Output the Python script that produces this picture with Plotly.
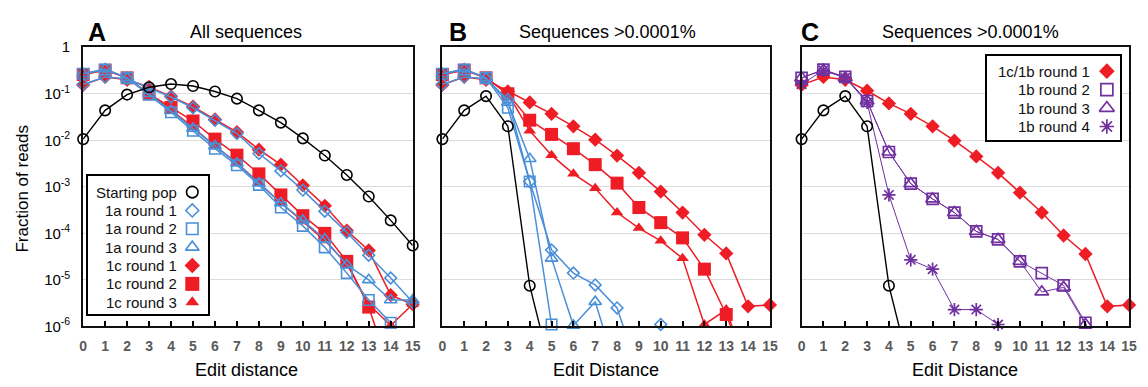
import plotly.graph_objects as go

W, H = 1148, 387

# ---------------- data ----------------
EDIT = list(range(16))
X_TICK_TEXT = [str(i) for i in EDIT]
Y_TICK_VALS = [1e-6, 1e-5, 1e-4, 1e-3, 1e-2, 1e-1, 1]
Y_TICK_TEXT = ["10<sup>-6</sup>", "10<sup>-5</sup>", "10<sup>-4</sup>", "10<sup>-3</sup>",
               "10<sup>-2</sup>", "10<sup>-1</sup>", "1"]

# 0 = no reads (drawn as a drop below the axis), None = not plotted
# Panel A: all sequences
A_START = [0.0106, 0.044, 0.096, 0.138, 0.162, 0.147, 0.112, 0.0785, 0.044, 0.024, 0.011,
           0.0047, 0.0018, 6.2e-4, 1.9e-4, 5.5e-5]
A_1A_R1 = [0.16, 0.23, 0.21, 0.135, 0.085, 0.05, 0.027, 0.014, 0.0052, 0.0022, 8.5e-4,
           3.0e-4, 1.05e-4, 3.4e-5, 1.1e-5, 3.3e-6]
A_1A_R2 = [0.27, 0.33, 0.22, 0.096, 0.04, 0.016, 0.0066, 0.0029, 0.0011, 3.6e-4, 1.45e-4,
           5.0e-5, 1.4e-5, 3.7e-6, 1.2e-6, 0]
A_1A_R3 = [0.27, 0.34, 0.22, 0.1, 0.043, 0.018, 0.0075, 0.0032, 0.0012, 4.5e-4, 1.9e-4,
           7.5e-5, 2.1e-5, 1.0e-5, 3.7e-6, 3.7e-6]
A_1C_R1 = [0.155, 0.23, 0.2, 0.14, 0.088, 0.053, 0.028, 0.015, 0.0063, 0.003, 1.07e-3,
           3.9e-4, 1.15e-4, 4.3e-5, 4.7e-6, 3.0e-6]
A_1C_R2 = [0.26, 0.32, 0.22, 0.1, 0.051, 0.026, 0.0106, 0.0048, 0.0019, 6.7e-4, 2.4e-4,
           1.0e-4, 2.5e-5, 2.6e-6, 0, 0]
A_1C_R3 = [0.26, 0.33, 0.22, 0.1, 0.045, 0.019, 0.0075, 0.0033, 0.0012, 4.5e-4, 1.8e-4,
           7.0e-5, 2.2e-5, 3.0e-6, 1.05e-6, 3.0e-6]

# Panel B: sequences >0.0001%
B_START = [0.0106, 0.044, 0.089, 0.02, 7.5e-6, 0, None, None, None, None, None,
           None, None, None, None, None]
B_1A_R1 = [0.16, 0.23, 0.21, 0.075, 0.0013, 4.4e-5, 1.4e-5, 7.8e-6, 2.5e-6, 0, 1.1e-6,
           0, 0, 0, 0, 0]
B_1A_R2 = [0.27, 0.33, 0.22, 0.05, 0.0013, 1.1e-6, 0, 0, 0, 0, 0, 0, 0, 0, 0, 0]
B_1A_R3 = [0.27, 0.34, 0.22, 0.065, 0.0040, 2.9e-5, 1.05e-6, 3.4e-6, 0, 0, 0, 0, 0, 0, 0, 0]
B_1C_R1 = [0.155, 0.23, 0.2, 0.112, 0.065, 0.037, 0.020, 0.0103, 0.0047, 0.002, 7.9e-4,
           2.8e-4, 9.3e-5, 3.7e-5, 2.7e-6, 2.9e-6]
B_1C_R2 = [0.26, 0.32, 0.22, 0.1, 0.027, 0.0134, 0.0066, 0.003, 0.0012, 3.6e-4, 1.7e-4,
           8.0e-5, 1.7e-5, 1.8e-6, 0, 0]
B_1C_R3 = [0.26, 0.33, 0.22, 0.1, 0.016, 0.0048, 0.0019, 9.3e-4, 2.8e-4, 1.3e-4, 6.9e-5,
           2.9e-5, 1.1e-6, 2.3e-6, 0, 0]

# Panel C: sequences >0.0001%
C_START = [0.0106, 0.044, 0.089, 0.02, 7.5e-6, 0, None, None, None, None, None,
           None, None, None, None, None]
C_1C1B_R1 = [0.155, 0.23, 0.2, 0.116, 0.062, 0.037, 0.02, 0.0098, 0.0045, 0.002, 7.5e-4,
             2.8e-4, 9.0e-5, 3.6e-5, 2.7e-6, 2.9e-6]
C_1B_R2 = [0.22, 0.33, 0.23, 0.07, 0.0056, 1.17e-3, 5.5e-4, 2.8e-4, 1.1e-4, 7.4e-5, 2.5e-5,
           1.4e-5, 7.6e-6, 1.2e-6, 0, 0]
C_1B_R3 = [0.22, 0.32, 0.22, 0.07, 0.0056, 1.17e-3, 5.5e-4, 2.8e-4, 1.1e-4, 7.4e-5, 2.5e-5,
           5.5e-6, 6.9e-6, 1.1e-6, 0, 0]
C_1B_R4 = [0.16, 0.32, 0.22, 0.065, 6.7e-4, 2.7e-5, 1.7e-5, 2.3e-6, 2.3e-6, 1.1e-6, 0,
           0, 0, 0, 0, 0]

LEGEND_A = ["Starting pop", "1a round 1", "1a round 2", "1a round 3",
            "1c round 1", "1c round 2", "1c round 3"]
LEGEND_C = ["1c/1b round 1", "1b round 2", "1b round 3", "1b round 4"]

# ---------------- styles ----------------
RED = "#EE1C25"
BLUE = "#4A90D9"
PURPLE = "#7030A0"
BLACK = "#000000"
FONT = "Liberation Sans, Arial, sans-serif"
FLOOR = 1e-7  # stand-in for zero reads on the log axis

STY = {
    "start": dict(color=BLACK, symbol="circle-open", size=10.5, lw=1.4, mlw=1.6),
    "1a_r1": dict(color=BLUE, symbol="diamond-open", size=9, lw=1.5, mlw=1.6),
    "1a_r2": dict(color=BLUE, symbol="square-open", size=10.5, lw=1.5, mlw=1.6),
    "1a_r3": dict(color=BLUE, symbol="triangle-up-open", size=11, lw=1.5, mlw=1.6),
    "1c_r1": dict(color=RED, symbol="diamond", size=11, lw=1.5, mlw=0),
    "1c_r2": dict(color=RED, symbol="square", size=13, lw=1.5, mlw=0),
    "1c_r3": dict(color=RED, symbol="triangle-up", size=11, lw=1.5, mlw=0),
    "1b_r2": dict(color=PURPLE, symbol="square-open", size=11, lw=1.0, mlw=1.7),
    "1b_r3": dict(color=PURPLE, symbol="triangle-up-open", size=12, lw=1.0, mlw=1.7),
    "1b_r4": dict(color=PURPLE, symbol="asterisk-open", size=11, lw=1.0, mlw=1.7),
}


def px_x(p):
    return p / W


def px_y(p):
    return 1 - p / H


fig = go.Figure()


def add_series(vals, key, ax):
    s = STY[key]
    ys = [None if v is None else (FLOOR if v == 0 else v) for v in vals]
    op = [0 if (v is None or v == 0) else 1 for v in vals]
    fig.add_trace(go.Scatter(
        x=EDIT, y=ys, mode="lines+markers", xaxis="x" + ax, yaxis="y" + ax,
        line=dict(color=s["color"], width=s["lw"]),
        marker=dict(symbol=s["symbol"], size=s["size"], color=s["color"], opacity=op,
                    line=dict(color=s["color"], width=s["mlw"])),
        cliponaxis=False, showlegend=False, hoverinfo="skip"))


# Panel A (red drawn first, blue over, black on top)
for vals, key in [(A_1C_R1, "1c_r1"), (A_1C_R2, "1c_r2"), (A_1C_R3, "1c_r3"),
                  (A_1A_R1, "1a_r1"), (A_1A_R2, "1a_r2"), (A_1A_R3, "1a_r3"),
                  (A_START, "start")]:
    add_series(vals, key, "")
# Panel B
for vals, key in [(B_1C_R1, "1c_r1"), (B_1C_R2, "1c_r2"), (B_1C_R3, "1c_r3"),
                  (B_1A_R1, "1a_r1"), (B_1A_R2, "1a_r2"), (B_1A_R3, "1a_r3"),
                  (B_START, "start")]:
    add_series(vals, key, "2")
# Panel C
for vals, key in [(C_1C1B_R1, "1c_r1"), (C_1B_R2, "1b_r2"), (C_1B_R3, "1b_r3"),
                  (C_1B_R4, "1b_r4"), (C_START, "start")]:
    add_series(vals, key, "3")

# ---------------- legends (drawn on helper axes) ----------------
LEG_A_KEYS = ["start", "1a_r1", "1a_r2", "1a_r3", "1c_r1", "1c_r2", "1c_r3"]
LEG_C_KEYS = ["1c_r1", "1b_r2", "1b_r3", "1b_r4"]
LEG_A_YRANGE = [6.64, -0.86]
LEG_C_YRANGE = [3.73, -0.83]
annotations = []


def add_legend(labels, keys, ax, yrange, sym_x, text_x):
    # white background of the legend box
    fig.add_trace(go.Scatter(
        x=[0, 1, 1, 0, 0], y=[yrange[0], yrange[0], yrange[1], yrange[1], yrange[0]],
        mode="lines", fill="toself", fillcolor="white", line=dict(width=0),
        xaxis="x" + ax, yaxis="y" + ax, showlegend=False, hoverinfo="skip"))
    for i, (lab, key) in enumerate(zip(labels, keys)):
        s = STY[key]
        fig.add_trace(go.Scatter(
            x=[sym_x], y=[i], mode="markers", xaxis="x" + ax, yaxis="y" + ax,
            marker=dict(symbol=s["symbol"], size=s["size"] + 1, color=s["color"],
                        line=dict(color=s["color"], width=s["mlw"])),
            cliponaxis=False, showlegend=False, hoverinfo="skip"))
        annotations.append(dict(x=text_x, y=i, xref="x" + ax, yref="y" + ax, text=lab,
                                showarrow=False, xanchor="right", yanchor="middle",
                                font=dict(family=FONT, size=15, color="#111")))


add_legend(LEGEND_A, LEG_A_KEYS, "4", LEG_A_YRANGE, 0.87, 0.755)
add_legend(LEGEND_C, LEG_C_KEYS, "5", LEG_C_YRANGE, 0.90, 0.79)

# ---------------- axes ----------------
Y_DOM = [px_y(332), px_y(40)]


def xaxis(dom, anchor):
    return dict(domain=dom, anchor=anchor, range=[0, 15], tickvals=EDIT, ticktext=X_TICK_TEXT,
                ticks="inside", ticklen=5, tickwidth=1.5, tickcolor="#000",
                showline=True, linewidth=2, linecolor="#111", mirror=True, showgrid=False,
                zeroline=False, ticklabelstandoff=6,
                tickfont=dict(family=FONT, size=14, color="#5a5a5a", weight="bold"))


def yaxis(anchor, labels):
    return dict(domain=Y_DOM, anchor=anchor, type="log", range=[-6, 0],
                tickvals=Y_TICK_VALS, ticktext=Y_TICK_TEXT, showticklabels=labels,
                ticks="", showgrid=True, gridcolor="#dcdcdc", gridwidth=1,
                showline=True, linewidth=2, linecolor="#111", mirror=True, zeroline=False,
                ticklabelstandoff=8,
                tickfont=dict(family=FONT, size=15, color="#000"))


def box_axis(dom, anchor, rng):
    return dict(domain=dom, anchor=anchor, range=rng, showline=True, mirror=True,
                linecolor="#000", linewidth=2, showticklabels=False, ticks="",
                showgrid=False, zeroline=False, fixedrange=True)


layout = dict(
    width=W, height=H, margin=dict(l=0, r=0, t=0, b=0), autosize=False,
    paper_bgcolor="white", plot_bgcolor="white", showlegend=False,
    xaxis=xaxis([px_x(80), px_x(413)], "y"),
    xaxis2=xaxis([px_x(443), px_x(774)], "y2"),
    xaxis3=xaxis([px_x(806), px_x(1137)], "y3"),
    yaxis=yaxis("x", True),
    yaxis2=yaxis("x2", False),
    yaxis3=yaxis("x3", False),
    xaxis4=box_axis([px_x(85), px_x(206)], "y4", [0, 1]),
    yaxis4=box_axis([px_y(319), px_y(175)], "x4", LEG_A_YRANGE),
    xaxis5=box_axis([px_x(993), px_x(1128)], "y5", [0, 1]),
    yaxis5=box_axis([px_y(137), px_y(49)], "x5", LEG_C_YRANGE),
)
fig.update_layout(**layout)

# panel letters, titles, axis titles
for letter, xp in [("A", 94), ("B", 459), ("C", 815)]:
    annotations.append(dict(x=px_x(xp), y=px_y(24), xref="paper", yref="paper", text=letter,
                            showarrow=False, xanchor="center", yanchor="middle",
                            font=dict(family=FONT, size=25, color="#000", weight="bold")))
for title, xp in [("All sequences", 245), ("Sequences >0.0001%", 610),
                  ("Sequences >0.0001%", 977)]:
    annotations.append(dict(x=px_x(xp), y=px_y(24), xref="paper", yref="paper", text=title,
                            showarrow=False, xanchor="center", yanchor="middle",
                            font=dict(family=FONT, size=18, color="#000")))
for title, xp in [("Edit distance", 245), ("Edit Distance", 608), ("Edit Distance", 971)]:
    annotations.append(dict(x=px_x(xp), y=px_y(378), xref="paper", yref="paper", text=title,
                            showarrow=False, xanchor="center", yanchor="middle",
                            font=dict(family=FONT, size=18, color="#000")))
annotations.append(dict(x=px_x(19), y=px_y(188), xref="paper", yref="paper",
                        text="Fraction of reads", textangle=-90, showarrow=False,
                        xanchor="center", yanchor="middle",
                        font=dict(family=FONT, size=17, color="#000")))

fig.update_layout(annotations=annotations)
fig.write_html("out.html", config={"displayModeBar": False, "responsive": False},
               post_script="document.body.style.margin='0';document.body.style.overflow='hidden';")
